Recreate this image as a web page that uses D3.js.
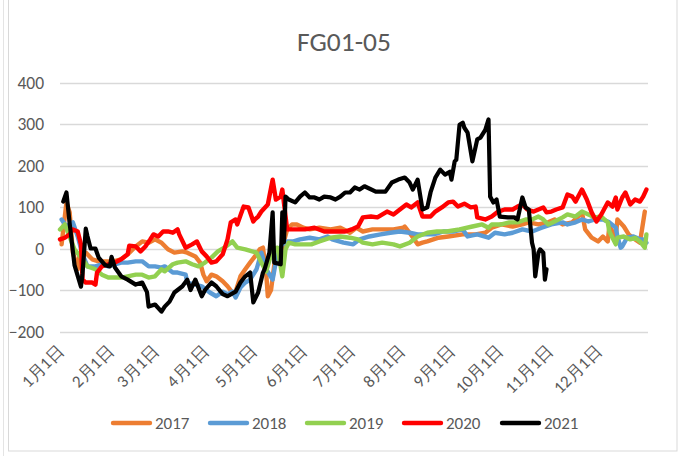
<!DOCTYPE html>
<html><head><meta charset="utf-8">
<script src="https://cdn.jsdelivr.net/npm/d3@7"></script>
<style>body{margin:0;background:#fff}svg{display:block}</style>
</head><body>
<svg id="c" width="691" height="456"></svg>
<script>
const title = "FG01-05";
const yTicks = [-200, -100, 0, 100, 200, 300, 400];
const seriesNames = ["2017", "2018", "2019", "2020", "2021"];
const seriesColors = ["#ED7D31", "#5B9BD5", "#92D050", "#FF0000", "#000000"];
// [day of year (0 = 1月1日), value]
const s2017 = [[1,10],[4,111],[6,87],[8,-10],[11,-50],[12,-19],[16,-10],[20,-26],[24,-31],[28,-31],[33,-31],[38,-26],[42,-14],[47,5],[51,17],[55,14],[59,22],[63,14],[67,-2],[71,-10],[76,-7],[79,-10],[84,-19],[87,-34],[89,-63],[91,-79],[94,-63],[97,-67],[101,-79],[104,-91],[107,-106],[109,-104],[112,-67],[115,-50],[118,-34],[121,-19],[124,-2],[126,2],[128,-60],[129,-115],[131,-100],[133,-40],[135,-10],[137,-7],[138,2],[141,46],[144,58],[147,58],[151,50],[155,46],[161,50],[168,46],[174,50],[180,38],[184,50],[188,41],[194,46],[200,46],[207,46],[213,50],[214,53],[217,38],[222,10],[225,14],[228,17],[235,26],[241,29],[250,34],[258,34],[264,38],[268,50],[274,58],[281,53],[287,58],[291,63],[297,58],[303,63],[307,70],[312,58],[318,63],[324,87],[326,46],[330,26],[334,17],[337,29],[340,17],[341,53],[345,29],[346,70],[350,53],[353,34],[357,22],[360,14],[363,89]];
const s2018 = [[1,70],[4,53],[8,63],[11,29],[14,-14],[17,-43],[22,-43],[26,-38],[30,-43],[34,-38],[38,-34],[42,-34],[47,-31],[51,-31],[55,-43],[59,-43],[63,-46],[65,-43],[70,-58],[73,-58],[78,-63],[79,-82],[84,-87],[88,-91],[93,-106],[97,-115],[101,-104],[104,-110],[107,-104],[109,-118],[112,-94],[115,-82],[118,-75],[122,-50],[125,-10],[128,-50],[132,-75],[135,-10],[138,10],[141,17],[145,17],[149,22],[155,26],[161,22],[166,29],[169,22],[176,14],[182,10],[186,22],[192,29],[199,34],[205,38],[211,41],[217,38],[222,34],[232,34],[238,41],[244,41],[250,46],[253,29],[259,34],[266,26],[270,38],[276,34],[281,38],[287,46],[293,41],[299,50],[305,58],[312,63],[315,58],[320,63],[324,70],[328,65],[332,70],[337,70],[341,63],[345,50],[346,29],[348,2],[349,5],[352,26],[356,29],[360,22],[362,22],[364,14]];
const s2019 = [[0,46],[3,58],[5,38],[9,-2],[14,-26],[17,-43],[22,-50],[26,-63],[30,-70],[34,-70],[38,-70],[42,-67],[47,-63],[51,-63],[55,-70],[59,-67],[63,-50],[65,-55],[70,-38],[73,-34],[78,-31],[82,-38],[86,-43],[90,-34],[94,-22],[98,-7],[102,2],[107,17],[110,2],[115,-2],[122,-10],[125,-34],[128,-55],[132,-2],[135,2],[138,-67],[140,-2],[142,14],[146,10],[151,10],[156,10],[161,17],[168,26],[174,29],[180,26],[185,22],[188,14],[194,10],[200,14],[207,10],[211,5],[217,14],[222,29],[228,38],[234,41],[240,41],[248,46],[256,53],[262,58],[266,50],[268,58],[274,58],[279,63],[284,63],[289,70],[293,70],[297,77],[300,70],[303,58],[307,65],[312,75],[315,82],[320,77],[324,89],[328,82],[332,75],[336,77],[340,63],[341,41],[345,10],[346,26],[350,29],[354,22],[357,26],[360,17],[363,2],[364,34]];
const s2020 = [[0,22],[3,26],[6,34],[8,46],[11,41],[13,10],[14,-75],[16,-82],[20,-82],[22,-87],[23,-58],[26,-43],[30,-38],[34,-34],[38,-26],[42,-14],[43,7],[47,5],[50,-7],[53,5],[56,22],[58,34],[61,29],[64,41],[67,41],[70,38],[73,46],[74,34],[78,2],[82,10],[85,17],[88,-7],[91,-19],[94,-34],[97,-31],[101,-14],[104,22],[106,63],[109,70],[110,58],[114,101],[117,99],[120,65],[121,70],[123,77],[125,89],[129,106],[132,166],[134,118],[137,125],[138,142],[141,46],[146,46],[152,46],[158,50],[164,41],[171,41],[177,41],[181,46],[185,53],[188,75],[193,77],[197,75],[203,89],[207,82],[211,94],[215,106],[218,99],[222,111],[225,77],[230,77],[233,89],[237,99],[241,111],[244,113],[247,101],[251,108],[255,99],[258,101],[259,75],[264,70],[268,77],[272,89],[276,94],[281,94],[284,101],[287,106],[290,94],[294,89],[297,94],[300,99],[302,87],[305,89],[308,94],[312,99],[315,130],[318,125],[320,113],[324,142],[327,118],[330,87],[333,65],[336,82],[340,111],[343,101],[345,123],[346,94],[349,123],[351,135],[354,106],[357,118],[360,113],[362,125],[364,142]];
const s2021 = [[2,113],[4,135],[6,60],[9,-40],[13,-92],[14,-60],[16,48],[17,30],[19,0],[22,0],[24,-22],[28,-40],[31,-43],[32,-20],[34,-45],[38,-67],[42,-75],[47,-87],[51,-82],[54,-105],[55,-140],[59,-135],[63,-152],[65,-140],[68,-128],[71,-106],[76,-91],[79,-75],[81,-100],[84,-75],[88,-115],[90,-100],[94,-82],[97,-91],[101,-110],[104,-115],[109,-104],[112,-82],[115,-67],[118,-58],[120,-130],[123,-106],[126,-58],[127,-50],[130,-10],[132,87],[133,-34],[137,-38],[138,87],[139,15],[140,125],[142,118],[146,111],[149,125],[152,135],[155,123],[158,123],[161,118],[164,125],[168,123],[171,118],[174,125],[177,135],[180,135],[183,147],[186,142],[189,150],[196,137],[202,137],[206,159],[210,166],[214,171],[217,159],[219,142],[222,166],[223,142],[225,94],[228,99],[230,135],[233,171],[236,190],[239,178],[242,185],[243,166],[245,210],[246,214],[248,298],[250,303],[251,291],[253,279],[256,210],[259,263],[261,267],[264,286],[266,311],[267,125],[269,111],[271,118],[273,77],[278,75],[282,75],[284,70],[287,123],[289,99],[291,94],[293,14],[294,-2],[295,-67],[297,-10],[298,-2],[300,-10],[301,-75],[302,-50]];
const allSeries = [s2017, s2018, s2019, s2020, s2021];

const svg = d3.select("#c");
const font = "Carlito, Calibri, 'Liberation Sans', Arial, sans-serif";
const txt = "#595959";

// frame
svg.append("rect").attr("x", 8.5).attr("y", -1).attr("width", 668.5).attr("height", 452)
  .attr("fill", "none").attr("stroke", "#d9d9d9");
svg.append("line").attr("x1", 3.5).attr("x2", 3.5).attr("y1", 0).attr("y2", 456).attr("stroke", "#e4e4e4");

const day0 = new Date(2021, 0, 1);
const toDate = d => d3.timeDay.offset(day0, d);
const x = d3.scaleTime().domain([day0, new Date(2021, 11, 31)]).range([60, 646.4]);
const y = d3.scaleLinear().domain([-200, 400]).range([331.5, 82.5]);

svg.append("text").attr("x", 344).attr("y", 51).attr("text-anchor", "middle")
  .attr("font-family", font).attr("font-size", 27.5).attr("fill", txt).text(title);

// gridlines
svg.append("g").selectAll("line").data(yTicks).join("line")
  .attr("x1", 60).attr("x2", 648).attr("y1", d => Math.round(y(d)) + 0.5).attr("y2", d => Math.round(y(d)) + 0.5)
  .attr("stroke", "#d9d9d9").attr("stroke-width", 1.3);

// y axis labels
const yAxis = d3.axisLeft(y).tickValues(yTicks).tickSize(0).tickPadding(0);
const gy = svg.append("g").attr("transform", "translate(44,0)").call(yAxis);
gy.select(".domain").remove();
gy.selectAll("text").attr("font-family", font).attr("font-size", 17.5).attr("fill", txt);

// x axis labels
const months = d3.timeMonth.range(day0, new Date(2021, 11, 2));
const xAxis = d3.axisBottom(x).tickValues(months).tickSize(0)
  .tickFormat(d => (d.getMonth() + 1) + "月1日");
const gx = svg.append("g").attr("transform", "translate(0,343)").call(xAxis);
gx.select(".domain").remove();
gx.selectAll("text").attr("font-family", font).attr("font-size", 17).attr("fill", txt)
  .attr("text-anchor", "end").attr("dy", "0.35em").attr("y", 0)
  .attr("transform", "translate(0,5) rotate(-45)");

// lines
const line = d3.line().x(d => x(toDate(d[0]))).y(d => y(d[1])).curve(d3.curveLinear);
svg.append("g").selectAll("path").data(allSeries).join("path")
  .attr("d", line).attr("fill", "none")
  .attr("stroke", (d, i) => seriesColors[i])
  .attr("stroke-width", (d, i) => i === 4 ? 4.2 : 4.4)
  .attr("stroke-linejoin", "round").attr("stroke-linecap", "round");

// legend
const legX = [113, 210, 307, 404, 502];
const leg = svg.append("g").selectAll("g").data(seriesNames).join("g")
  .attr("transform", (d, i) => `translate(${legX[i]},423)`);
leg.append("line").attr("x1", 0).attr("x2", 37).attr("y1", 0).attr("y2", 0)
  .attr("stroke", (d, i) => seriesColors[i]).attr("stroke-width", 4.4).attr("stroke-linecap", "round");
leg.append("text").attr("x", 42).attr("y", 0).attr("dy", "0.35em")
  .attr("font-family", font).attr("font-size", 17).attr("fill", txt).text(d => d);
</script>
</body></html>
